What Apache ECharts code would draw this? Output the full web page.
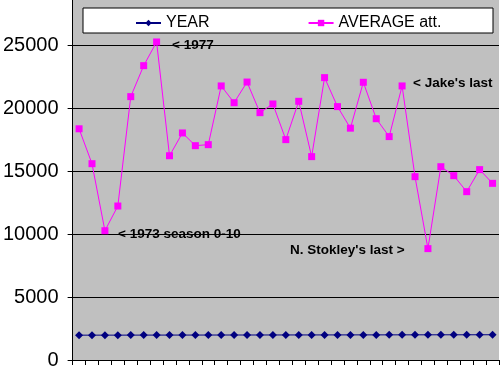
<!DOCTYPE html>
<html>
<head>
<meta charset="utf-8">
<script src="https://cdn.jsdelivr.net/npm/echarts@6/dist/echarts.min.js"></script>
<style>html,body{margin:0;padding:0;background:#fff}#c{width:500px;height:371px}</style>
</head>
<body>
<div id="c"></div>
<script>
var years = [1971,1972,1973,1974,1975,1976,1977,1978,1979,1980,1981,1982,1983,1984,1985,1986,1987,1988,1989,1990,1991,1992,1993,1994,1995,1996,1997,1998,1999,2000,2001,2002,2003];
var categories = years.map(String);
var yearSeries = years.slice();
var averageAtt = [18350,15580,10260,12220,20900,23360,25240,16210,18020,17010,17090,21750,20420,22060,19630,20320,17490,20530,16140,22410,20110,18400,22040,19150,17730,21750,14550,8840,15340,14630,13360,15110,14020];
var yTicks = {min:0, max:28571, interval:5000};
var notes = [
  {text:'< 1977', x:172, y:45},
  {text:"< Jake's last", x:413, y:83},
  {text:'< 1973 season 0-10', x:118, y:234},
  {text:"N. Stokley's last >", x:290, y:250}
];

var chart = echarts.init(document.getElementById('c'));
var font = 'Liberation Sans, Arial, sans-serif';
chart.setOption({
  animation:false,
  backgroundColor:'#ffffff',
  grid:{left:72, right:1, top:0, bottom:11, show:true, backgroundColor:'#c0c0c0', borderWidth:0},
  legend:{
    left:130, top:10, itemGap:98, itemWidth:25, itemHeight:8, z:20,
    textStyle:{fontFamily:font, fontSize:16, color:'#000'},
    data:['YEAR','AVERAGE att.']
  },
  xAxis:{
    type:'category', data:categories, boundaryGap:true,
    axisLine:{show:true, lineStyle:{color:'#000', width:1}},
    axisTick:{show:true, length:5, lineStyle:{color:'#000'}, interval:0},
    axisLabel:{show:false},
    splitLine:{show:false}
  },
  yAxis:{
    type:'value', min:yTicks.min, max:yTicks.max, interval:yTicks.interval,
    axisLine:{show:true, lineStyle:{color:'#000', width:1}},
    axisTick:{show:true, length:5, lineStyle:{color:'#000'}},
    axisLabel:{fontFamily:font, fontSize:20, color:'#000', margin:14, showMaxLabel:false,
      formatter:function(v){ return (v % yTicks.interval === 0) ? String(v) : ''; }},
    splitLine:{show:true, showMaxLine:false, lineStyle:{color:'#000', width:1}}
  },
  graphic:[
    {type:'rect', shape:{x:83, y:8, width:410, height:25}, style:{fill:'#fff', stroke:'#000', lineWidth:1}, z:15}
  ].concat(notes.map(function(n){
    return {type:'text', x:n.x, y:n.y, z:16, style:{text:n.text, fill:'#000', font:'bold 13.5px '+font, textVerticalAlign:'middle', textAlign:'left'}};
  })),
  series:[
    {name:'YEAR', type:'line', data:yearSeries, symbol:'diamond', symbolSize:8,
     lineStyle:{color:'#000080', width:1}, itemStyle:{color:'#000080'}, z:3},
    {name:'AVERAGE att.', type:'line', data:averageAtt, symbol:'rect', symbolSize:7,
     lineStyle:{color:'#ff00ff', width:1}, itemStyle:{color:'#ff00ff'}, z:4}
  ]
});
</script>
</body>
</html>
